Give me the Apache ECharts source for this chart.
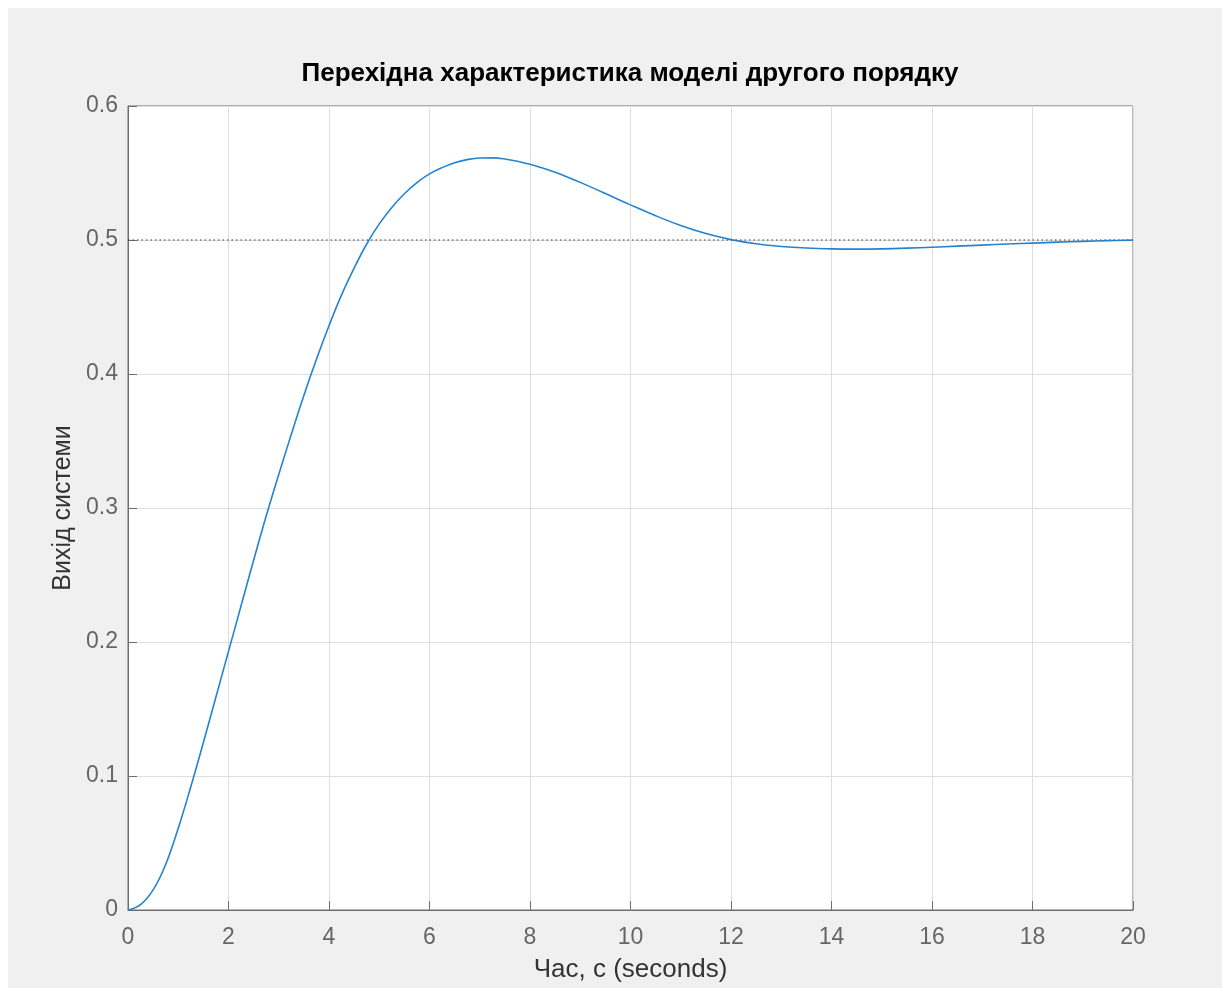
<!DOCTYPE html>
<html>
<head>
<meta charset="utf-8">
<script src="https://cdn.jsdelivr.net/npm/echarts@6/dist/echarts.min.js"></script>
<style>
  html, body { margin: 0; padding: 0; background: #ffffff; }
  #chart { position: absolute; left: 8px; top: 8px; width: 1214px; height: 980px; background: #f0f0f0; }
</style>
</head>
<body>
<div id="chart"></div>
<script>
// --- data ---
const titleText = 'Перехідна характеристика моделі другого порядку';
const xLabel = 'Час, с (seconds)';
const yLabel = 'Вихід системи';
const timeValues = [0, 0.25, 0.5, 0.75, 1.0, 1.25, 1.5, 1.75, 2.0, 2.25, 2.5, 2.75, 3.0, 3.25, 3.5, 3.75, 4.0, 4.25, 4.5, 4.75, 5.0, 5.25, 5.5, 5.75, 6.0, 6.25, 6.5, 6.75, 7.0, 7.25, 7.5, 7.75, 8.0, 8.25, 8.5, 8.75, 9.0, 9.5, 10.0, 10.5, 11.0, 11.5, 12.0, 12.5, 13.0, 13.5, 14.0, 14.5, 15.0, 15.5, 16.0, 16.5, 17.0, 17.5, 18.0, 18.5, 19.0, 19.5, 20.0];
const outputValues = [0, 0.004, 0.015, 0.034, 0.061, 0.092, 0.125, 0.159, 0.193, 0.227, 0.261, 0.294, 0.325, 0.355, 0.384, 0.411, 0.436, 0.459, 0.479, 0.497, 0.512, 0.5243, 0.5345, 0.5428, 0.5493, 0.5540, 0.5577, 0.5600, 0.5612, 0.5613, 0.5605, 0.5588, 0.5565, 0.5537, 0.5505, 0.5469, 0.5430, 0.5347, 0.5262, 0.5181, 0.5108, 0.5048, 0.5003, 0.4972, 0.4952, 0.4940, 0.4934, 0.4932, 0.4934, 0.4939, 0.4946, 0.4954, 0.4962, 0.4970, 0.4977, 0.4984, 0.4990, 0.4995, 0.4999];
const steadyStateTime = [0, 20];
const steadyStateValue = [0.5, 0.5];
const xTicks = { min: 0, max: 20, interval: 2 };
const yTicks = { min: 0, max: 0.6, interval: 0.1 };

const responseData = timeValues.map((t, i) => [t, outputValues[i]]);
const steadyData = steadyStateTime.map((t, i) => [t, steadyStateValue[i]]);

const chart = echarts.init(document.getElementById('chart'), null, { renderer: 'canvas' });
const FONT = 'Liberation Sans, Arial, Helvetica, sans-serif';
chart.setOption({
  backgroundColor: '#f0f0f0',
  animation: false,
  title: {
    text: titleText,
    left: 622,
    top: 53,
    textAlign: 'center',
    padding: 0,
    textStyle: { fontFamily: FONT, fontSize: 26, fontWeight: 'bold', color: '#000000' }
  },
  grid: {
    left: 120, top: 98, right: 89, bottom: 78,
    show: true, backgroundColor: '#ffffff', borderColor: '#6e6e6e', borderWidth: 1
  },
  xAxis: {
    type: 'value',
    min: xTicks.min, max: xTicks.max, interval: xTicks.interval,
    name: xLabel, nameLocation: 'middle', nameGap: 47,
    nameTextStyle: { fontFamily: FONT, fontSize: 26, color: '#333333' },
    axisLine: { show: true, lineStyle: { color: '#6e6e6e', width: 1 } },
    axisTick: { show: true, inside: true, length: 9, lineStyle: { color: '#6e6e6e' } },
    axisLabel: { fontFamily: FONT, fontSize: 23, color: '#666666', margin: 16 },
    splitLine: { show: true, lineStyle: { color: '#dedede', width: 1 } }
  },
  yAxis: {
    type: 'value',
    min: yTicks.min, max: yTicks.max, interval: yTicks.interval,
    name: yLabel, nameLocation: 'middle', nameGap: 44,
    nameTextStyle: { fontFamily: FONT, fontSize: 25, color: '#333333' },
    axisLine: { show: true, lineStyle: { color: '#6e6e6e', width: 1 } },
    axisTick: { show: true, inside: true, length: 9, lineStyle: { color: '#6e6e6e' } },
    axisLabel: { fontFamily: FONT, fontSize: 23, color: '#666666', margin: 10 },
    splitLine: { show: true, lineStyle: { color: '#dedede', width: 1 } }
  },
  series: [
    {
      type: 'line',
      data: steadyData,
      showSymbol: false,
      lineStyle: { color: '#333333', width: 1.2, type: [1.5, 3] },
      silent: true,
      z: 2
    },
    {
      type: 'line',
      data: responseData,
      smooth: 0.4,
      showSymbol: false,
      lineStyle: { color: '#2383d2', width: 1.6 },
      z: 3
    }
  ]
});
</script>
</body>
</html>
